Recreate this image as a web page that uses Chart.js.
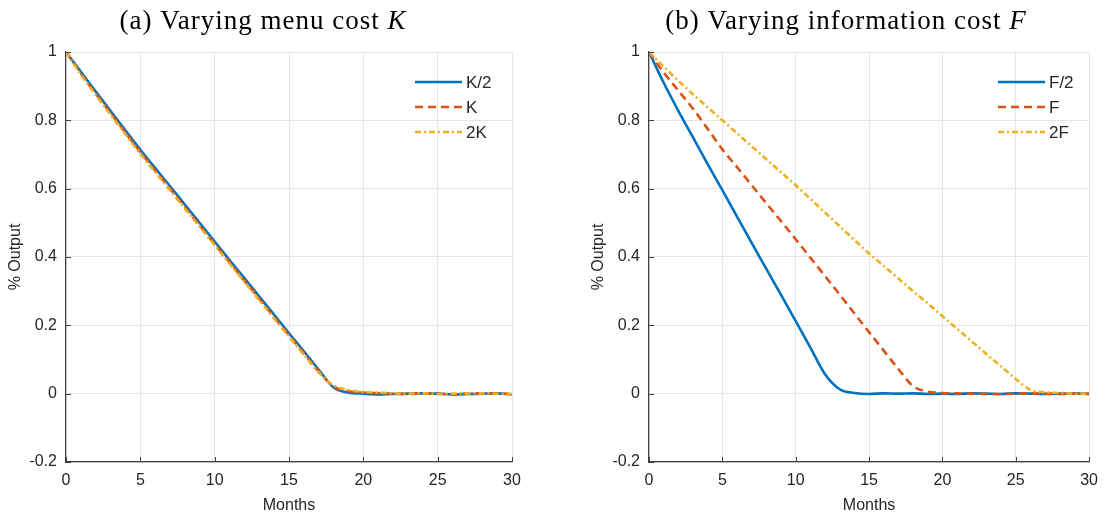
<!DOCTYPE html>
<html>
<head>
<meta charset="utf-8">
<script src="https://cdn.jsdelivr.net/npm/chart.js@4.4.0/dist/chart.umd.min.js"></script>
<style>
  html, body { margin: 0; padding: 0; background: #fff; }
  #wrap { position: relative; width: 1107px; height: 517px; }
  canvas { position: absolute; top: 0; }
  #panelA { left: 0; }
  #panelB { left: 583px; }
</style>
</head>
<body>
<div id="wrap">
  <canvas id="panelA" width="530" height="517"></canvas>
  <canvas id="panelB" width="524" height="517"></canvas>
</div>
<script>
// months after the shock
var months = [0, 1, 2, 3, 4, 5, 6, 7, 8, 9, 10, 11, 12, 13, 14, 15, 16, 17, 18, 19, 20, 21, 22, 23, 24, 25, 26, 27, 28, 29, 30];

var xTicks = [0, 5, 10, 15, 20, 25, 30];
var yTicks = [-0.2, 0, 0.2, 0.4, 0.6, 0.8, 1];

// (a) menu cost K
var kLabels = ['K/2', 'K', '2K'];
var kHalf   = [1.000, 0.942, 0.884, 0.827, 0.770, 0.714, 0.660, 0.607, 0.553, 0.499, 0.445, 0.391, 0.338, 0.284, 0.231, 0.177, 0.124, 0.070, 0.018, 0.003, 0.000, -0.002, -0.001, 0.000, 0.001, 0.000, -0.002, -0.001, 0.000, 0.001, -0.002];
var kBase   = [1.000, 0.937, 0.878, 0.821, 0.764, 0.707, 0.653, 0.600, 0.546, 0.492, 0.438, 0.385, 0.331, 0.278, 0.224, 0.171, 0.118, 0.065, 0.021, 0.007, 0.003, 0.001, 0.000, -0.001, 0.001, 0.000, -0.002, 0.000, 0.001, 0.000, -0.001];
var kDouble = [1.000, 0.934, 0.874, 0.816, 0.759, 0.702, 0.648, 0.595, 0.541, 0.488, 0.434, 0.381, 0.327, 0.274, 0.220, 0.167, 0.114, 0.062, 0.024, 0.011, 0.005, 0.003, 0.001, 0.000, 0.001, -0.001, 0.000, 0.001, 0.001, 0.000, -0.001];

// (b) information cost F
var fLabels = ['F/2', 'F', '2F'];
var fHalf   = [1.000, 0.910, 0.828, 0.750, 0.672, 0.596, 0.518, 0.441, 0.365, 0.289, 0.212, 0.135, 0.057, 0.013, 0.002, -0.001, 0.001, 0.000, 0.001, -0.001, 0.000, -0.001, 0.001, 0.000, -0.001, 0.001, 0.000, -0.001, 0.000, 0.001, -0.001];
var fBase   = [1.000, 0.940, 0.887, 0.834, 0.775, 0.715, 0.663, 0.610, 0.557, 0.505, 0.452, 0.398, 0.344, 0.290, 0.235, 0.180, 0.126, 0.072, 0.022, 0.006, 0.002, 0.001, 0.000, -0.001, -0.001, 0.000, 0.001, 0.000, -0.001, 0.000, 0.000];
var fDouble = [1.000, 0.957, 0.916, 0.876, 0.838, 0.800, 0.762, 0.724, 0.686, 0.648, 0.610, 0.570, 0.530, 0.490, 0.450, 0.410, 0.374, 0.337, 0.300, 0.264, 0.227, 0.190, 0.153, 0.116, 0.080, 0.043, 0.011, 0.004, 0.002, 0.000, -0.001];

var colors = ['#0072BD', '#D95319', '#EDB120'];
var dashes = [[], [8, 5], [6, 3, 2, 3]];
var textColor = '#262626';
var sansFont = '"Liberation Sans", Arial, sans-serif';

function toPoints(values) {
    return months.map(function (m, i) { return { x: m, y: values[i] }; });
}

// inward tick marks, in-axes legend and the serif panel title
var panelDecor = {
    id: 'panelDecor',
    afterDraw: function (chart, args, opts) {
        var ctx = chart.ctx;
        var area = chart.chartArea;
        var xs = chart.scales.x, ys = chart.scales.y;
        ctx.save();

        ctx.strokeStyle = '#404040';
        ctx.lineWidth = 1;
        ctx.beginPath();
        xs.ticks.forEach(function (t) {
            var px = Math.round(xs.getPixelForValue(t.value)) + 0.5;
            ctx.moveTo(px, area.bottom);
            ctx.lineTo(px, area.bottom - 5);
        });
        ys.ticks.forEach(function (t) {
            var py = Math.round(ys.getPixelForValue(t.value)) + 0.5;
            ctx.moveTo(area.left, py);
            ctx.lineTo(area.left + 5, py);
        });
        ctx.stroke();

        // legend
        ctx.font = '17px ' + sansFont;
        ctx.textBaseline = 'middle';
        ctx.textAlign = 'left';
        chart.data.datasets.forEach(function (ds, i) {
            var y = opts.legendTop + i * 25;
            ctx.strokeStyle = ds.borderColor;
            ctx.lineWidth = ds.borderWidth;
            ctx.setLineDash(ds.borderDash || []);
            ctx.beginPath();
            ctx.moveTo(opts.legendX, y);
            ctx.lineTo(opts.legendX + 47, y);
            ctx.stroke();
            ctx.setLineDash([]);
            ctx.fillStyle = textColor;
            ctx.fillText(ds.label, opts.legendX + 51, y + 1);
        });

        // title: upright text followed by an italic symbol
        var plain = '27px "Liberation Serif", "Times New Roman", serif';
        var ital = 'italic 27px "Liberation Serif", "Times New Roman", serif';
        ctx.letterSpacing = '1px';
        ctx.font = plain;
        var w1 = ctx.measureText(opts.title[0]).width;
        ctx.font = ital;
        var w2 = ctx.measureText(opts.title[1]).width;
        var x0 = opts.titleX - (w1 + w2) / 2;
        ctx.fillStyle = '#000';
        ctx.textBaseline = 'alphabetic';
        ctx.font = plain;
        ctx.fillText(opts.title[0], x0, 29);
        ctx.font = ital;
        ctx.fillText(opts.title[1], x0 + w1, 29);
        ctx.restore();
    }
};

function makePanel(canvasId, labels, series, rightPad, title) {
    var datasets = series.map(function (values, i) {
        return {
            label: labels[i],
            data: toPoints(values),
            borderColor: colors[i],
            borderWidth: 2.6,
            borderDash: dashes[i],
            pointRadius: 0,
            fill: false,
            cubicInterpolationMode: 'monotone',
            order: series.length - i
        };
    });

    return new Chart(document.getElementById(canvasId), {
        type: 'line',
        data: { datasets: datasets },
        plugins: [panelDecor],
        options: {
            responsive: false,
            animation: false,
            layout: { padding: { top: 52, right: rightPad, bottom: 0, left: 0 } },
            plugins: {
                legend: { display: false },
                tooltip: { enabled: false },
                panelDecor: { legendX: 415, legendTop: 82, titleX: 263, title: title }
            },
            scales: {
                x: {
                    type: 'linear',
                    min: 0,
                    max: 30,
                    afterFit: function (scale) { scale.height = 55; },
                    afterBuildTicks: function (scale) {
                        scale.ticks = xTicks.map(function (v) { return { value: v }; });
                    },
                    ticks: {
                        padding: 9,
                        maxRotation: 0,
                        autoSkip: false,
                        color: textColor,
                        font: { family: sansFont, size: 16 },
                        callback: function (v) { return String(v); }
                    },
                    grid: { color: '#e5e5e5', lineWidth: 1, drawTicks: false },
                    border: { display: true, color: '#404040', width: 1.2 },
                    title: {
                        display: true,
                        text: 'Months',
                        color: textColor,
                        font: { family: sansFont, size: 16 },
                        padding: { top: 0, bottom: 2 }
                    }
                },
                y: {
                    min: -0.2,
                    max: 1,
                    afterFit: function (scale) { scale.width = 66; },
                    afterBuildTicks: function (scale) {
                        scale.ticks = yTicks.map(function (v) { return { value: v }; });
                    },
                    ticks: {
                        padding: 9,
                        color: textColor,
                        font: { family: sansFont, size: 16 },
                        callback: function (v) { return String(+v.toFixed(1)); }
                    },
                    grid: { color: '#e5e5e5', lineWidth: 1, drawTicks: false },
                    border: { display: true, color: '#404040', width: 1.2 },
                    title: {
                        display: true,
                        text: '% Output',
                        color: textColor,
                        font: { family: sansFont, size: 16 },
                        padding: { top: 6, bottom: 0 }
                    }
                }
            }
        }
    });
}

makePanel('panelA', kLabels, [kHalf, kBase, kDouble], 18, ['(a) Varying menu cost ', 'K']);
makePanel('panelB', fLabels, [fHalf, fBase, fDouble], 14, ['(b) Varying information cost ', 'F']);
</script>
</body>
</html>
